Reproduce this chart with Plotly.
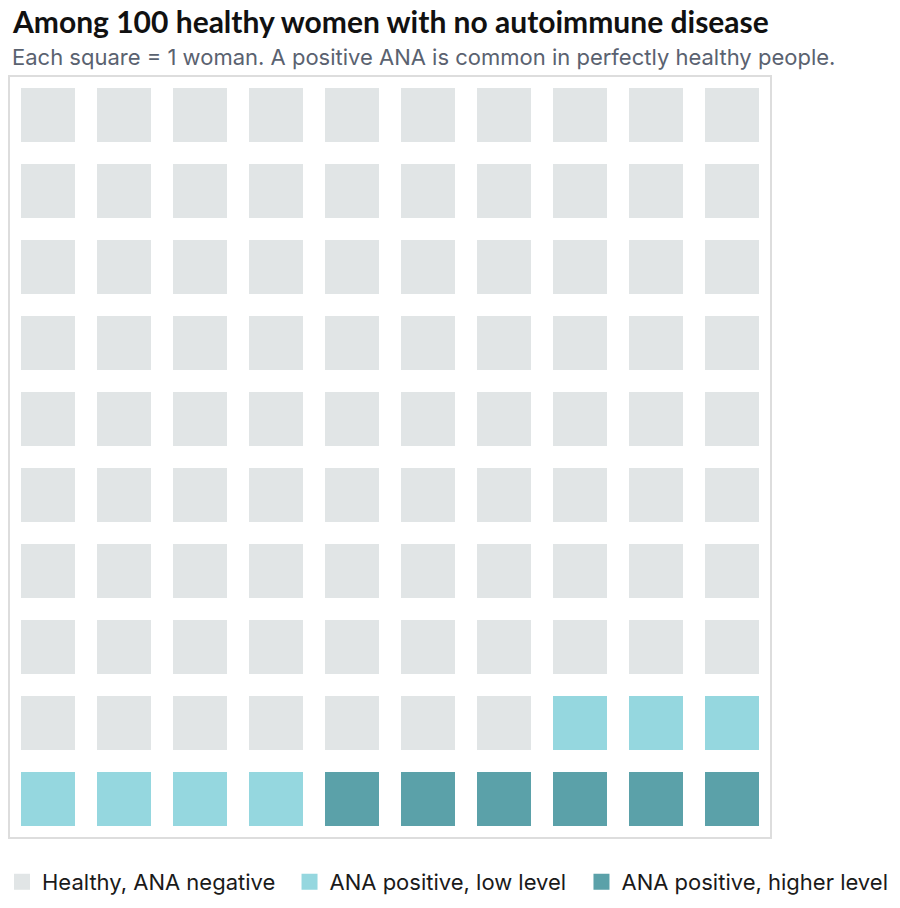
import plotly.graph_objects as go

# Waffle chart: 100 healthy women, each square = 1 woman
categories = ["Healthy, ANA negative", "ANA positive, low level", "ANA positive, higher level"]
counts = [87, 7, 6]
colors = ["#e1e5e6", "#95d7df", "#5ba1a9"]

n_cols = 10
n_rows = 10

# fill order: start bottom row, right to left, highest level first
fill_order = [2, 1, 0]
cells = []
for cat in fill_order:
    cells += [cat] * counts[cat]

xs = {c: [] for c in range(len(categories))}
ys = {c: [] for c in range(len(categories))}
for i, cat in enumerate(cells):
    row = i // n_cols
    col = n_cols - 1 - (i % n_cols)
    xs[cat].append(col)
    ys[cat].append(row)

# one legend per category so the entries sit on one row
legend_names = ["legend", "legend2", "legend3"]
legend_x = [-0.0105, 0.3128, 0.6372]
legend_xref = ["paper", "container", "container"]

fig = go.Figure()
for c in range(len(categories)):
    fig.add_trace(go.Scatter(
        x=xs[c],
        y=ys[c],
        mode="markers",
        name=categories[c],
        legend=legend_names[c],
        marker=dict(symbol="square", size=54, color=colors[c]),
        hoverinfo="name",
    ))

legend_style = dict(
    orientation="h",
    yref="container",
    xanchor="left",
    y=0.0606, yanchor="top",
    font=dict(family="Inter", size=22, color="#1a1a1a"),
)

fig.update_layout(
    width=900,
    height=908,
    paper_bgcolor="white",
    plot_bgcolor="white",
    margin=dict(l=2, r=138, t=69, b=79, autoexpand=False),
    showlegend=True,
    legend=dict(legend_style, x=legend_x[0], xref=legend_xref[0]),
    legend2=dict(legend_style, x=legend_x[1], xref=legend_xref[1]),
    legend3=dict(legend_style, x=legend_x[2], xref=legend_xref[2]),
    annotations=[
        dict(text="<b>Among 100 healthy women with no autoimmune disease</b>",
             xref="paper", yref="paper", x=0, y=1.0,
             xanchor="left", yanchor="bottom", yshift=36, showarrow=False,
             font=dict(family="Lato", size=30, color="#111111")),
        dict(text="Each square = 1 woman. A positive ANA is common in perfectly healthy people.",
             xref="paper", yref="paper", x=0, y=1.0,
             xanchor="left", yanchor="bottom", yshift=5, showarrow=False,
             font=dict(family="Inter", size=22, color="#5a6270")),
    ],
)

fig.update_xaxes(range=[-0.5, n_cols - 0.5], showgrid=False, zeroline=False,
                 showticklabels=False, showline=True, mirror=True,
                 linecolor="#dddddd", linewidth=2, fixedrange=True)
fig.update_yaxes(range=[-0.5, n_rows - 0.5], showgrid=False, zeroline=False,
                 showticklabels=False, showline=True, mirror=True,
                 linecolor="#dddddd", linewidth=2, fixedrange=True)

fig.write_html("out.html")
